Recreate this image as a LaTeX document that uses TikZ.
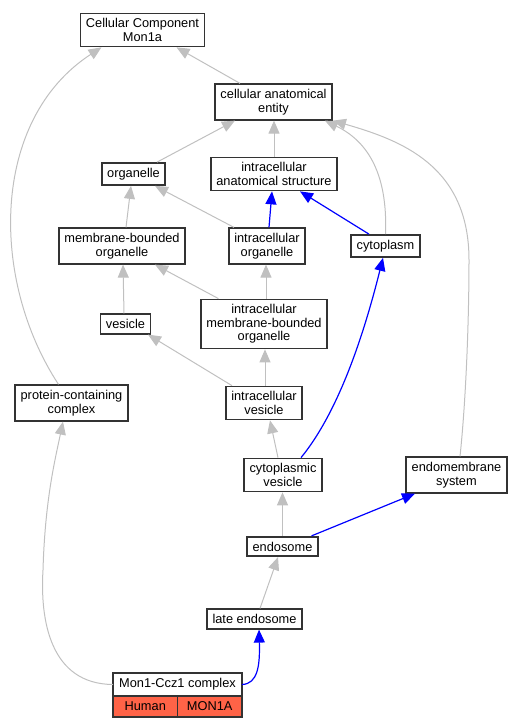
\documentclass[tikz,border=0pt]{standalone}
\usepackage{fontspec}
\setmainfont{Liberation Sans}
\usetikzlibrary{positioning,arrows.meta}
\definecolor{edgegray}{RGB}{192,192,192}
\definecolor{hlred}{RGB}{255,99,71}

\begin{document}
\begin{tikzpicture}[x=1pt, y=-1pt, font=\fontsize{12.8}{13.5}\selectfont,
	t/.style={draw=black!80, line width=1.8pt, fill=white, align=center, inner xsep=5.5pt, inner ysep=5pt},
	cell/.style={draw=black!80, line width=1.8pt, outer sep=0pt, inner sep=0pt, minimum height=21pt, minimum width=64.5pt, fill=hlred},
	isa/.style={color=edgegray, line width=1pt, -{Triangle[length=13pt, width=11pt]}},
	part/.style={color=blue, line width=1.2pt, -{Triangle[length=13pt, width=11pt]}}]
		\useasboundingbox (0,0) rectangle (523,728);

		\node[t] (CC) at (142.5,30) {Cellular Component\\Mon1a};
		\node[t] (cae) at (273.5,102) {cellular anatomical\\entity};
		\node[t] (org) at (133.5,174) {organelle};
		\node[t] (ias) at (274,174) {intracellular\\anatomical structure};
		\node[t] (mbo) at (122,246) {membrane-bounded\\organelle};
		\node[t] (io) at (267,246) {intracellular\\organelle};
		\node[t] (cyto) at (385.5,246) {cytoplasm};
		\node[t] (ves) at (125.5,324) {vesicle};
		\node[t] (imbo) at (264,324) {intracellular\\membrane-bounded\\organelle};
		\node[t] (pcc) at (71.5,403) {protein-containing\\complex};
		\node[t] (iv) at (264,403) {intracellular\\vesicle};
		\node[t] (cv) at (283,475) {cytoplasmic\\vesicle};
		\node[t] (ems) at (456.5,475) {endomembrane\\system};
		\node[t] (endo) at (282.5,546.5) {endosome};
		\node[t] (late) at (254.5,619) {late endosome};
		\node[t, outer sep=0pt, inner sep=0pt, minimum width=129pt, minimum height=23pt] (M) at (177.5,684.5) {Mon1-Ccz1 complex};
		\node[cell, below right=0pt and 0pt of M.south west] (hum) {Human};
		\node[cell, right=0pt of hum] (gene) {MON1A};

		\draw[isa] ([xshift=-33.5pt]cae.north) -- ([xshift=34pt]CC.south);
		\draw[isa] ([xshift=-13pt]pcc.north) .. controls (-10,280) and (-10,120) .. ([xshift=-41pt]CC.south);
		\draw[isa] ([xshift=23.5pt]org.north) -- ([xshift=-38.5pt]cae.south);
		\draw[isa] (ias.north) -- (ias.north |- cae.south);
		\draw[isa] (cyto.north) .. controls (388,170) and (365,140) .. ([xshift=-8pt]cae.south east);
		\draw[isa] ([xshift=3.5pt]ems.north) .. controls (466,400) and (469,320) .. (469,260) .. controls (469,165) and (400,140) .. (cae.south east);
		\draw[isa] ([xshift=4pt]mbo.north) -- ([xshift=-2.5pt]org.south);
		\draw[isa] ([xshift=-33pt]io.north) -- ([xshift=21.5pt]org.south);
		\draw[isa] ([xshift=-1.5pt]ves.north) -- ([xshift=1pt]mbo.south);
		\draw[isa] ([xshift=-45.5pt]imbo.north) -- ([xshift=33pt]mbo.south);
		\draw[isa] ([xshift=2pt]imbo.north) -- ([xshift=-1pt]io.south);
		\draw[isa] ([xshift=-32pt]iv.north) -- ([xshift=22.5pt]ves.south);
		\draw[isa] ([xshift=1pt]iv.north) -- ([xshift=1pt]imbo.south);
		\draw[isa] ([xshift=-5pt]cv.north) -- ([xshift=6pt]iv.south);
		\draw[isa] (endo.north) -- (endo.north |- cv.south);
		\draw[isa] ([xshift=5.5pt]late.north) -- ([xshift=-4.5pt]endo.south);
		\draw[isa] (M.west) .. controls (50,684) and (40,620) .. (43,570) .. controls (45,500) and (55,460) .. ([xshift=-8.5pt]pcc.south);

		\draw[part] ([xshift=2pt]io.north) -- ([xshift=-2pt]ias.south);
		\draw[part] ([xshift=-16.5pt]cyto.north) -- ([xshift=26pt]ias.south);
		\draw[part] ([xshift=18pt]cv.north) .. controls (340,410) and (365,330) .. ([xshift=-2.5pt]cyto.south);
		\draw[part] ([xshift=29pt]endo.north) -- ([xshift=-41.5pt]ems.south);
		\draw[part] (M.east) .. controls (258,684) and (260,665) .. ([xshift=4.5pt]late.south);
	\end{tikzpicture}
\end{document}
